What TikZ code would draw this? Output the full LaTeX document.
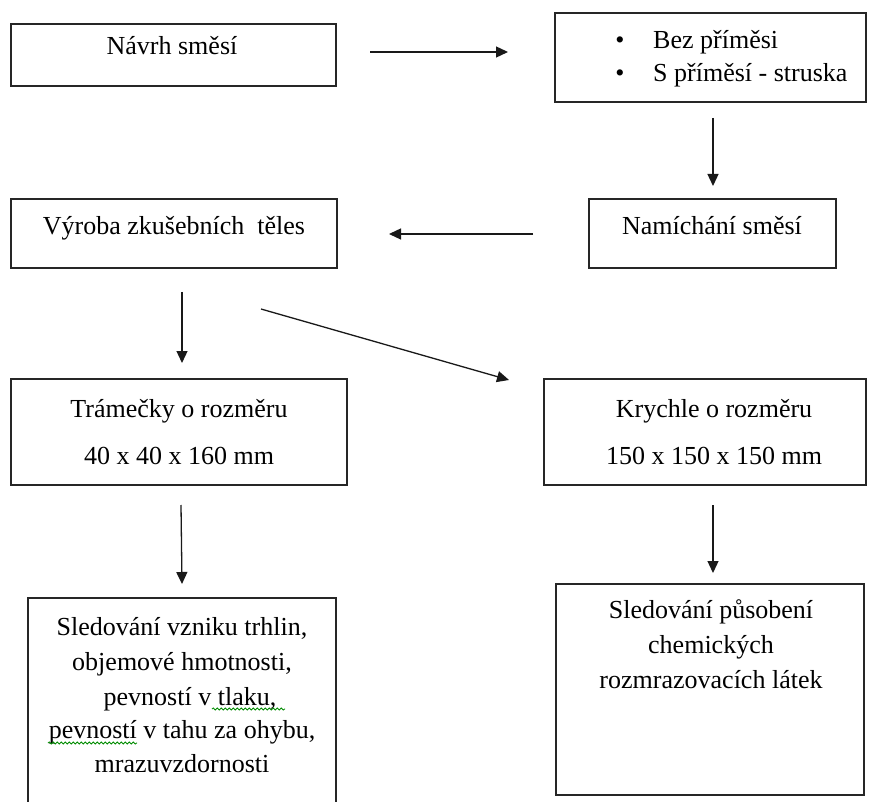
\documentclass[tikz,border=0pt]{standalone}
\usepackage{fontspec}
\setmainfont{Liberation Serif}
\usetikzlibrary{arrows.meta,decorations.pathmorphing}
\begin{document}
\begin{tikzpicture}[x=1pt,y=-1pt,
  box/.style={draw=black!85,line width=1.6pt,rectangle,inner sep=0pt},
  txt/.style={anchor=base,inner sep=0pt,font=\fontsize{26}{34}\selectfont},
  txtw/.style={anchor=base west,inner sep=0pt,font=\fontsize{26}{34}\selectfont},
  conn/.style={line width=1.3pt,draw=black!90,-{Triangle[length=12pt,width=11pt]}},
  spell/.style={draw=green!55!black,line width=0.8pt,decorate,decoration={snake,segment length=4pt,amplitude=1.1pt}}]
\useasboundingbox (0,0) rectangle (870,802);
\fill[white] (0,0) rectangle (870,802);
% boxes
\node[box,minimum width=325pt,minimum height=62pt] (b1) at (173.5,55) {};
\node[box,minimum width=311pt,minimum height=89pt] (b2) at (710.5,57.5) {};
\node[box,minimum width=326pt,minimum height=69pt] (b3) at (174,233.5) {};
\node[box,minimum width=247pt,minimum height=69pt] (b4) at (712.5,233.5) {};
\node[box,minimum width=336pt,minimum height=106pt] (b5) at (179,432) {};
\node[box,minimum width=322pt,minimum height=106pt] (b6) at (705,432) {};
\node[box,minimum width=308pt,minimum height=206pt] (b7) at (182,701) {};
\node[box,minimum width=308pt,minimum height=211pt] (b8) at (710,689.5) {};
% texts
\node[txt] (t1) at (172,55) {Návrh směsí};
\node[txt] (t2a) at (620,49) {•};
\node[txtw] (t2b) at (653,49) {Bez příměsi};
\node[txt] (t2c) at (620,82) {•};
\node[txtw] (t2d) at (653,82) {S příměsí - struska};
\node[txt] (t3) at (174,235) {Výroba zkušebních\ \ těles};
\node[txt] (t4) at (712,235) {Namíchání směsí};
\node[txt] (t5a) at (179,417) {Trámečky o rozměru};
\node[txt] (t5b) at (179,464) {40 x 40 x 160 mm};
\node[txt] (t6a) at (714,417) {Krychle o rozměru};
\node[txt] (t6b) at (714,464) {150 x 150 x 150 mm};
\node[txt] (t7a) at (182,635) {Sledování vzniku trhlin,};
\node[txt] (t7b) at (182,670) {objemové hmotnosti,};
\node[txt] (t7c) at (190,705) {pevností v tlaku,};
\node[txt] (t7d) at (182,738) {pevností v tahu za ohybu,};
\node[txt] (t7e) at (182,772) {mrazuvzdornosti};
\node[txt] (t8a) at (711,618) {Sledování působení};
\node[txt] (t8b) at (711,653) {chemických};
\node[txt] (t8c) at (711,688) {rozmrazovacích látek};
% spell-check underlines
\coordinate (s1a) at (212,709); \coordinate (s1b) at (285,709);
\coordinate (s2a) at (48,743); \coordinate (s2b) at (137,743);
\draw[spell] (s1a) -- (s1b);
\draw[spell] (s2a) -- (s2b);
% connector end points
\coordinate (a1s) at (370,52);  \coordinate (a1e) at (508,52);
\coordinate (a2s) at (713,118); \coordinate (a2e) at (713,186);
\coordinate (a3s) at (533,234); \coordinate (a3e) at (389,234);
\coordinate (a4s) at (182,292); \coordinate (a4e) at (182,363);
\coordinate (a5s) at (261,309); \coordinate (a5e) at (509,380);
\coordinate (a6s) at (181,505); \coordinate (a6e) at (182,584);
\coordinate (a7s) at (713,505); \coordinate (a7e) at (713,573);
\draw[conn] (a1s) -- (a1e);
\draw[conn] (a2s) -- (a2e);
\draw[conn] (a3s) -- (a3e);
\draw[conn] (a4s) -- (a4e);
\draw[conn] (a5s) -- (a5e);
\draw[conn] (a6s) -- (a6e);
\draw[conn] (a7s) -- (a7e);
\end{tikzpicture}
\end{document}
